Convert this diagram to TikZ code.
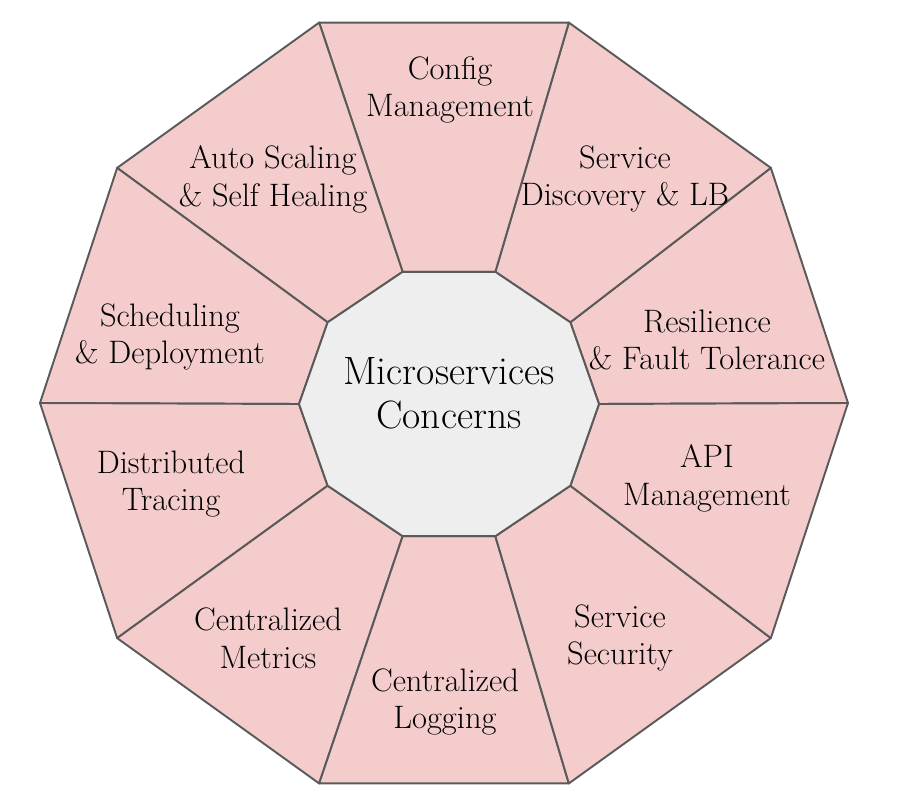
\documentclass[tikz,border=0pt]{standalone}
\usetikzlibrary{positioning}
\definecolor{segpink}{HTML}{F4CCCC}
\definecolor{hubgray}{HTML}{EEEEEE}
\definecolor{edgegray}{HTML}{5A5A5A}
\begin{document}
\begin{tikzpicture}[x=0.02cm,y=-0.02cm,
    seg/.style={fill=segpink, draw=edgegray, line width=1.1pt, line join=round},
    hub/.style={fill=hubgray, draw=edgegray, line width=1.1pt, line join=round},
    lbl/.style={align=center, inner sep=0pt, font=\fontsize{18.5}{21.5}\selectfont}]
\useasboundingbox (0,0) rectangle (900,808);
% outer and inner corners
\foreach \k in {0,...,9}{
    \coordinate (o\k) at ({444+404*cos(36*\k)},{403-400*sin(36*\k)});
    \coordinate (n\k) at ({449+150*cos(36*\k)},{404-139*sin(36*\k)});
}
\foreach \k/\j in {0/1,1/2,2/3,3/4,4/5,5/6,6/7,7/8,8/9,9/0}
    \filldraw[seg] (o\k) -- (o\j) -- (n\j) -- (n\k) -- cycle;
\filldraw[hub] (n0) -- (n1) -- (n2) -- (n3) -- (n4) -- (n5) -- (n6) -- (n7) -- (n8) -- (n9) -- cycle;

\node[lbl, font=\fontsize{22.5}{25}\selectfont] (core) at (449,393) {Microservices\\Concerns};
\node[lbl] (config)  at (450,90)  {Config\\Management};
\node[lbl] (discov)  at (625,179) {Service\\Discovery \& LB};
\node[lbl] (resil)   at (707,340) {Resilience\\\& Fault Tolerance};
\node[lbl] (api)     at (707,478) {API\\Management};
\node[lbl] (secur)   at (620,638) {Service\\Security};
\node[lbl] (logging) at (445,702) {Centralized\\Logging};
\node[lbl] (metrics) at (268,638) {Centralized\\Metrics};
\node[lbl] (tracing) at (171,484) {Distributed\\Tracing};
\node[lbl] (sched)   at (170,337) {Scheduling\\\& Deployment};
\node[lbl] (scaling) at (273,179) {Auto Scaling\\\& Self Healing};
\end{tikzpicture}
\end{document}
